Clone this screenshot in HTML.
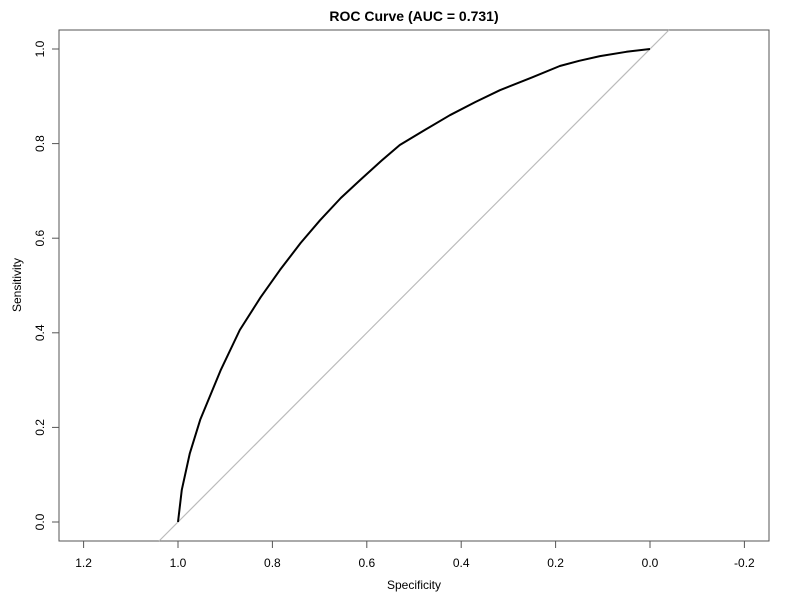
<!DOCTYPE html>
<html><head><meta charset="utf-8"><style>
body{margin:0;background:#fff}
svg{display:block;font-family:"Liberation Sans",Arial,sans-serif}
</style></head><body>
<svg id="chart" width="800" height="600" viewBox="0 0 800 600">
<text x="414" y="21" text-anchor="middle" font-size="14" font-weight="bold">ROC Curve (AUC = 0.731)</text>
<rect x="59" y="30" width="710" height="511" fill="none" stroke="#555" stroke-width="1"/>
<text x="414" y="589" text-anchor="middle" font-size="12">Specificity</text>
<text transform="translate(21,285) rotate(-90)" text-anchor="middle" font-size="12">Sensitivity</text>
<g id="axes"></g>
<g id="marks"></g>
</svg>
<script>
const xTicks=[1.2,1.0,0.8,0.6,0.4,0.2,0.0,-0.2];
const xTickLabels=["1.2","1.0","0.8","0.6","0.4","0.2","0.0","-0.2"];
const yTicks=[0,0.2,0.4,0.6,0.8,1.0];
const yTickLabels=["0.0","0.2","0.4","0.6","0.8","1.0"];
const specificity=[1,0.992,0.975,0.953,0.91,0.869,0.825,0.784,0.74,0.699,0.655,0.614,0.57,0.53,0.475,0.424,0.37,0.318,0.25,0.191,0.15,0.106,0.05,0];
const sensitivity=[0,0.068,0.145,0.216,0.32,0.406,0.475,0.533,0.59,0.638,0.685,0.723,0.763,0.797,0.83,0.86,0.888,0.913,0.94,0.964,0.975,0.985,0.994,1];
const NS="http://www.w3.org/2000/svg";
const xs=v=>650-472*v, ys=v=>522-473*v;
function mk(tag,attrs,parent){const e=document.createElementNS(NS,tag);for(const k in attrs)e.setAttribute(k,attrs[k]);parent.appendChild(e);return e;}
const axes=document.getElementById('axes'), marks=document.getElementById('marks');
xTicks.forEach((v,i)=>{
  const t=mk('line',{x1:xs(v),x2:xs(v),y1:541,y2:548,stroke:'#555'},axes);
  
  
  const l=mk('text',{x:xs(v),y:567,'text-anchor':'middle','font-size':'12'},axes);
  l.textContent=xTickLabels[i];
  
  
});
yTicks.forEach((v,i)=>{
  const t=mk('line',{x1:52,x2:59,y1:ys(v),y2:ys(v),stroke:'#555'},axes);
  
  
  const l=mk('text',{transform:`translate(44,${ys(v)}) rotate(-90)`,'text-anchor':'middle','font-size':'12'},axes);
  l.textContent=yTickLabels[i];
  
  
});
// reference diagonal: sensitivity = 1 - specificity, clipped to box
const sLo=1-(522-541)/-473*-1; 
const yb=541, yt=30;
const svBot=(522-yb)/473, svTop=(522-yt)/473;
const diag=mk('line',{x1:xs(1-svBot),y1:yb,x2:xs(1-svTop),y2:yt,stroke:'#bbb','stroke-width':1.2},marks);


const pts=specificity.map((s,i)=>xs(s).toFixed(1)+','+ys(sensitivity[i]).toFixed(1)).join(' ');
const curve=mk('polyline',{points:pts,fill:'none',stroke:'#000','stroke-width':2,'stroke-linejoin':'round'},marks);


</script>
</body></html>
